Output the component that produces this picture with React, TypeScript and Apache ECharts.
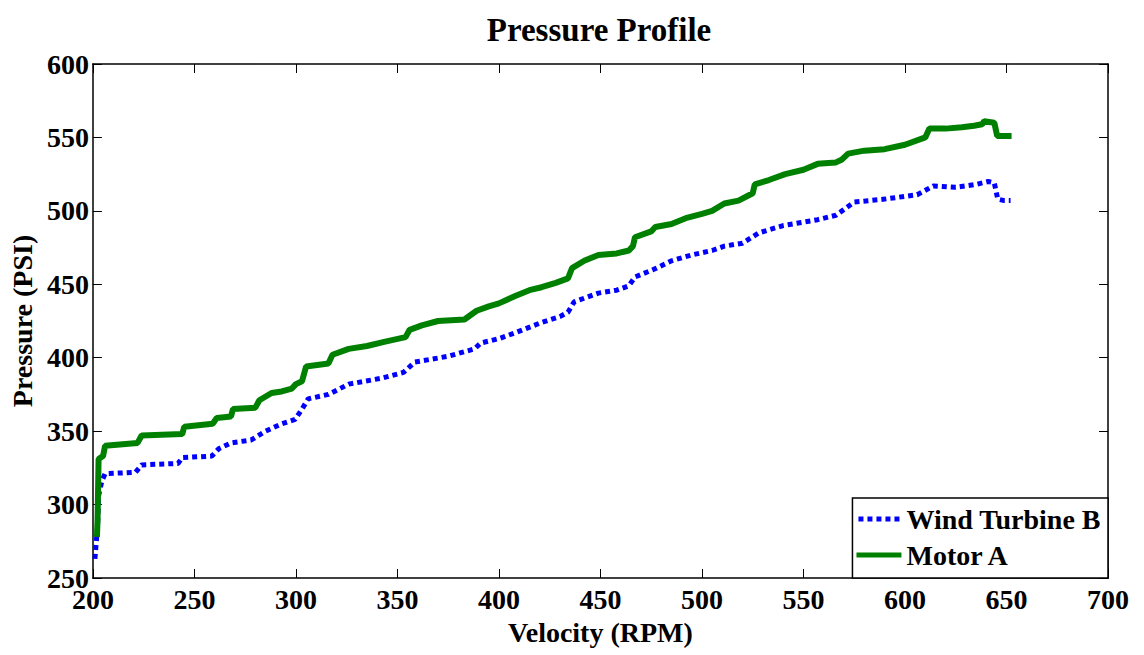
import React, { useEffect, useRef } from "react";
import * as echarts from "echarts";

const titleText = "Pressure Profile";
const xName = "Velocity (RPM)";
const yName = "Pressure (PSI)";
const seriesNames = ["Wind Turbine B", "Motor A"];

const windRpm = [201, 201.5, 202.3, 202.8, 204.4, 206, 221, 224, 242, 244, 258.6, 262, 268, 278, 285, 293, 299.6, 303, 306, 316, 326, 342, 353, 358.5, 375, 388, 391, 400, 408, 421, 430, 434, 437, 449, 458, 464, 467, 476, 485, 495, 505, 511, 520, 528, 540, 557, 566, 569, 575, 590, 606, 614, 625, 635, 641, 644, 645.7, 649, 652];
const windPsi = [263, 272, 285, 306, 316, 321, 322, 327, 328, 332, 333, 338, 342, 344, 350, 355, 358, 365, 372, 375, 382, 386, 390, 397, 401, 406, 410, 413, 417, 424, 428, 431, 438, 444, 446, 449, 455, 460, 466, 470, 473, 476, 478, 485, 490, 494, 497, 500, 506, 508, 511, 517, 516, 518, 520, 519, 508, 507, 507];

const motorRpm = [202, 202.3, 202.8, 205, 206, 222, 224, 244, 245, 259, 261, 268, 269, 280, 282, 288, 293, 298, 300, 303, 305, 316, 318, 326, 335, 344, 354, 356, 362, 370, 383, 389, 395, 400, 408, 415, 421, 428, 434, 436, 442, 449, 458, 464, 466, 467, 475, 477, 485, 492, 500, 505, 511, 518, 525, 526, 533, 541, 550, 557, 566, 569, 572, 580, 590, 600, 610, 612, 620, 628, 634, 638, 639, 644, 645.4, 652.5];
const motorPsi = [278, 290, 331, 333, 340, 342, 347, 348, 353, 355, 359, 360, 365, 366, 371, 376, 377, 379, 382, 384, 394, 396, 402, 406, 408, 411, 414, 419, 422, 425, 426, 432, 435, 437, 442, 446, 448, 451, 454, 461, 466, 470, 471, 473, 476, 482, 486, 489, 491, 495, 498, 500, 505, 507, 512, 518, 521, 525, 528, 532, 533, 535, 539, 541, 542, 545, 550, 556, 556, 557, 558, 559, 561, 560, 551, 551];

const xTicks = { min: 200, max: 700, interval: 50 };
const yTicks = { min: 250, max: 600, interval: 50 };

const FONT = "'Liberation Serif', 'Times New Roman', serif";
const DOTS_ICON = "path://M0,0h5v5h-5zM9,0h5v5h-5zM18,0h5v5h-5zM27,0h5v5h-5zM36,0h5v5h-5z";
const BAR_ICON = "path://M0,0h45v5h-45z";

export default function App() {
  const ref = useRef<HTMLDivElement>(null);
  useEffect(() => {
    if (!ref.current) return;
    const chart = echarts.init(ref.current, null, { renderer: "svg" });
    const zip = (a: number[], b: number[]) => a.map((v, i) => [v, b[i]]);
    const axisLine = { show: true, lineStyle: { color: "#000", width: 1.5 } };
    const tick = { show: true, inside: true, length: 9, lineStyle: { color: "#000", width: 1 } };
    const label = { color: "#000", fontFamily: FONT, fontWeight: "bold" as const, fontSize: 28 };
    chart.setOption({
      animation: false,
      backgroundColor: "#fff",
      grid: { left: 91, right: 36, top: 64, bottom: 77, containLabel: false },
      graphic: [
        {
          type: "text",
          x: 599,
          y: 30,
          style: {
            text: titleText,
            fill: "#000",
            font: `bold 33px ${FONT}`,
            align: "center",
            verticalAlign: "middle",
          },
        },
      ],
      legend: {
        orient: "vertical",
        right: 36,
        bottom: 77,
        padding: [6, 7, 8, 4],
        itemWidth: 45,
        itemHeight: 5,
        itemGap: 6,
        borderColor: "#000",
        borderWidth: 1.5,
        backgroundColor: "#fff",
        itemStyle: { borderWidth: 0 },
        textStyle: { ...label, lineHeight: 30 },
        data: [
          { name: seriesNames[0], icon: DOTS_ICON },
          { name: seriesNames[1], icon: BAR_ICON },
        ],
      },
      xAxis: [
        {
          type: "value",
          ...xTicks,
          position: "bottom",
          name: xName,
          nameLocation: "middle",
          nameGap: 40,
          nameTextStyle: label,
          axisLine,
          axisTick: tick,
          axisLabel: { ...label, margin: 7 },
          splitLine: { show: false },
        },
        {
          type: "value",
          ...xTicks,
          position: "top",
          axisLine,
          axisTick: tick,
          axisLabel: { show: false },
          splitLine: { show: false },
        },
      ],
      yAxis: [
        {
          type: "value",
          ...yTicks,
          position: "left",
          name: yName,
          nameLocation: "middle",
          nameGap: 55,
          nameTextStyle: label,
          axisLine,
          axisTick: tick,
          axisLabel: { ...label, margin: 4 },
          splitLine: { show: false },
        },
        {
          type: "value",
          ...yTicks,
          position: "right",
          axisLine,
          axisTick: tick,
          axisLabel: { show: false },
          splitLine: { show: false },
        },
      ],
      series: [
        {
          name: seriesNames[0],
          type: "line",
          symbol: "none",
          data: zip(windRpm, windPsi),
          itemStyle: { color: "#0000ff" },
          lineStyle: { color: "#0000ff", width: 5, type: [5, 4], cap: "butt" },
          z: 2,
        },
        {
          name: seriesNames[1],
          type: "line",
          symbol: "none",
          data: zip(motorRpm, motorPsi),
          itemStyle: { color: "#008000" },
          lineStyle: { color: "#008000", width: 6 },
          z: 3,
        },
      ],
    });
    return () => chart.dispose();
  }, []);
  return (
    <div
      ref={ref}
      style={{ position: "fixed", left: 0, top: 0, width: 1144, height: 655 }}
    />
  );
}
